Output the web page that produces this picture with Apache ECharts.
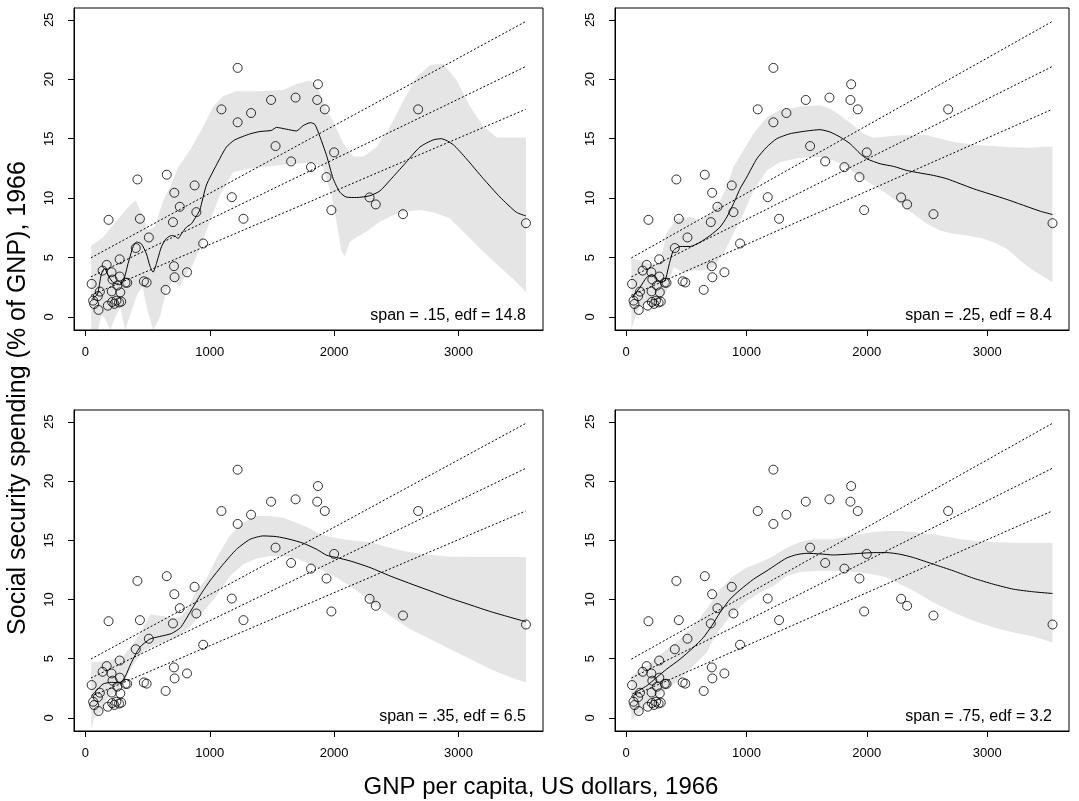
<!DOCTYPE html>
<html>
<head>
<meta charset="utf-8">
<title>Social security spending vs GNP, loess spans</title>
<script src="https://cdn.jsdelivr.net/npm/echarts@6/dist/echarts.min.js"></script>
<style>
  html, body { margin: 0; padding: 0; background: #fff; }
  #chart { width: 1079px; height: 801px; }
</style>
</head>
<body>
<div id="chart"></div>
<script>
// GNP per capita (US$) and social security spending (% of GNP), 1966
var gnp = [50, 62, 70, 100, 105, 116, 138, 171, 180, 186, 210, 212, 218, 215, 232, 249, 256, 275, 276, 280, 270, 288, 322, 336,
  405, 418, 438, 470, 492, 510, 645, 654, 704, 712, 715, 717, 759, 817, 878, 892, 947, 1094, 1177, 1224, 1224, 1271,
  1332, 1493, 1529, 1654, 1690, 1814, 1864, 1870, 1925, 1939, 1978, 2000, 2285, 2335, 2554, 2676, 3543]
var spend = [2.78, 1.37, 1.09, 1.75, 0.59, 2.13, 3.9, 4.38, 0.95, 8.17, 3.76, 2.15, 3.15, 1.26, 1.1, 1.37, 2.64, 4.85, 3.4, 2.07, 1.22, 1.29, 2.88, 2.88,
  5.8, 11.57, 8.26, 3.0, 2.9, 6.69, 2.28, 11.97, 7.98, 4.27, 10.45, 3.34, 9.27, 3.76, 11.07, 8.82, 6.18, 17.47, 10.08, 20.96, 16.38, 8.26,
  17.16, 18.26, 14.38, 13.09, 18.46, 12.61, 18.26, 19.58, 17.47, 11.77, 8.99, 13.85, 10.06, 9.47, 8.65, 17.47, 7.89]

// linear fit and its two dotted companions (same in every panel)
var linX = [44, 3540]
var linMid = [3.37, 21.07]
var linUp = [4.97, 24.86]
var linLow = [1.82, 17.47]

var xTicks = [0, 1000, 2000, 3000]
var yTicks = [0, 5, 10, 15, 20, 25]
var spanLabels = ['span = .15, edf = 14.8', 'span = .25, edf = 8.4', 'span = .35, edf = 6.5', 'span = .75, edf = 3.2']

// loess curves [x, y]
var fit15 = [[50,1.5],[96,1.9],[128,3.6],[155,4.1],[182,3.5],[222,2.9],[276,2.7],[308,3.1],[343,4.5],[383,5.9],[410,6.3],[450,6.15],
  [491,5.3],[518,4.3],[544,3.76],[571,4.5],[611,5.9],[651,6.6],[692,6.85],[719,6.8],[745,6.6],[772,7.0],[812,7.55],[853,7.85],[893,8.5],
  [920,9.0],[973,11.1],[1054,12.8],[1134,14.3],[1201,14.9],[1322,15.4],[1402,15.6],[1496,15.7],[1536,15.95],[1617,15.8],[1697,15.65],
  [1751,16.1],[1810,16.35],[1845,16.2],[1885,15.2],[1939,13.6],[1992,11.65],[2046,10.5],[2100,10.08],[2180,10.05],[2287,10.2],[2368,10.6],
  [2475,11.8],[2582,13.05],[2690,14.3],[2797,14.9],[2864,15.0],[2958,14.5],[3065,13.3],[3199,11.65],[3333,10.1],[3467,8.8],[3543,8.5]]
var fit25 = [[50,1.6],[66,1.8],[116,2.5],[172,3.34],[213,3.57],[255,3.2],[290,2.9],[324,3.06],[360,4.5],[393,5.59],[449,5.93],[532,5.93],
  [615,6.29],[698,6.85],[781,7.56],[837,8.4],[892,9.52],[947,10.79],[1003,11.77],[1086,13.31],[1169,14.3],[1252,15.0],[1363,15.42],
  [1501,15.65],[1612,15.76],[1695,15.56],[1778,15.14],[1861,14.58],[1945,13.74],[2000,13.31],[2111,12.89],[2222,12.67],[2332,12.33],
  [2443,12.11],[2554,11.91],[2665,11.63],[2886,10.79],[3163,9.89],[3440,8.9],[3543,8.62]]
var fit35 = [[50,1.9],[75,2.16],[142,2.87],[209,3.01],[276,2.95],[317,3.43],[370,4.69],[437,5.96],[518,6.66],[598,6.88],[692,7.13],
  [765,7.64],[840,8.9],[920,10.31],[1001,11.57],[1108,12.98],[1215,14.24],[1323,15.08],[1430,15.37],[1537,15.31],[1645,15.08],
  [1752,14.75],[1859,14.24],[1940,13.74],[2020,13.54],[2128,13.26],[2289,12.7],[2450,11.99],[2611,11.35],[2772,10.73],[2933,10.11],
  [3094,9.55],[3255,8.99],[3544,8.12]]
var fit75 = [[50,2.0],[172,2.72],[255,3.43],[338,4.13],[449,4.97],[560,5.96],[643,6.8],[712,7.78],[781,8.9],[864,10.03],[947,10.81],
  [1058,11.71],[1169,12.42],[1252,12.98],[1335,13.51],[1418,13.79],[1501,13.9],[1612,13.85],[1723,13.76],[1834,13.82],[1945,13.9],
  [2055,13.96],[2166,13.96],[2277,13.82],[2388,13.54],[2554,12.98],[2720,12.42],[2886,11.8],[3053,11.29],[3219,10.87],[3385,10.65],[3543,10.51]]

// confidence bands: upper and lower edges [x, y]
var up15 = [[46,6.0],[142,6.7],[250,8.1],[357,9.4],[405,9.8],[451,8.7],[504,7.3],[558,7.6],[625,9.8],[679,10.9],[746,12.6],[840,14.0],
  [947,16.0],[1028,17.7],[1108,18.6],[1215,19.0],[1376,19.0],[1591,19.1],[1698,19.6],[1806,19.9],[1859,19.5],[1940,17.4],[1994,16.4],
  [2074,14.6],[2155,13.5],[2235,13.5],[2342,14.3],[2450,16.0],[2557,18.2],[2664,20.2],[2772,21.2],[2879,21.3],[2986,19.9],[3094,17.7],
  [3201,16.0],[3308,15.1],[3544,15.1]]
var low15 = [[46,-1.1],[100,-1.1],[130,0.2],[160,-0.2],[200,-1.1],[240,0.0],[280,0.8],[320,-1.1],[370,0.5],[420,2.0],[460,2.5],[500,0.5],
  [545,-1.1],[600,0.0],[650,2.2],[700,3.0],[760,2.6],[810,3.6],[860,4.3],[920,5.75],[1000,8.0],[1080,10.25],[1188,12.2],[1322,12.5],
  [1590,12.8],[1831,13.0],[1912,12.6],[1979,10.25],[2019,8.0],[2059,5.5],[2086,5.1],[2126,6.3],[2180,6.7],[2260,7.2],[2368,8.0],
  [2528,8.8],[2690,9.0],[2797,8.8],[2931,8.3],[3065,6.9],[3199,5.5],[3333,4.2],[3440,3.2],[3544,2.1]]
var up25 = [[44,4.97],[116,4.75],[199,4.47],[283,4.47],[332,7.0],[421,8.26],[532,8.4],[615,8.12],[698,8.68],[781,9.8],[837,10.93],
  [892,12.61],[975,14.02],[1058,15.42],[1169,16.83],[1280,17.39],[1446,17.72],[1612,17.81],[1695,17.53],[1778,16.97],[1889,16.12],
  [1972,15.42],[2055,15.08],[2277,15.28],[2499,15.28],[2720,14.72],[2942,14.44],[3163,14.3],[3330,14.24],[3543,14.35]]
var low25 = [[44,-1.1],[70,-0.2],[116,0.81],[199,1.38],[283,1.24],[338,2.22],[393,4.19],[476,3.76],[560,3.9],[643,3.9],[726,4.19],
  [809,5.31],[892,7.0],[975,8.68],[1058,10.65],[1169,12.33],[1280,13.03],[1446,13.4],[1612,13.46],[1723,13.17],[1834,12.61],[1945,11.77],
  [2055,11.07],[2166,10.37],[2277,9.52],[2388,8.68],[2499,7.84],[2609,7.28],[2720,7.0],[2831,6.85],[2942,6.66],[3053,6.29],[3163,5.73],
  [3274,4.75],[3385,3.9],[3543,2.92]]
var up35 = [[46,4.69],[174,4.83],[308,5.25],[389,6.37],[442,7.21],[523,8.76],[603,8.62],[684,8.48],[764,8.48],[818,9.18],[871,10.3],
  [925,11.14],[979,11.85],[1059,13.6],[1162,15.4],[1269,16.5],[1376,17.05],[1484,17.05],[1591,16.91],[1698,16.49],[1806,16.0],
  [1859,15.65],[1940,15.37],[2047,15.14],[2181,14.94],[2289,14.86],[2396,14.52],[2557,14.1],[2718,13.82],[2933,13.62],[3201,13.6],[3544,13.6]]
var low35 = [[46,-1.0],[70,0.0],[121,0.47],[174,1.6],[255,2.3],[308,3.0],[362,4.12],[416,4.97],[469,5.67],[550,6.09],[630,6.37],
  [711,6.65],[791,7.21],[871,8.06],[952,9.04],[1032,10.02],[1113,11.2],[1162,11.99],[1269,12.98],[1376,13.46],[1484,13.68],[1591,13.68],
  [1698,13.46],[1806,12.98],[1913,12.42],[2020,11.85],[2128,11.15],[2235,10.31],[2342,9.47],[2450,8.62],[2611,7.5],[2772,6.66],
  [2933,5.81],[3094,4.97],[3255,4.13],[3416,3.43],[3544,3.0]]
var up75 = [[44,3.57],[172,4.41],[338,5.81],[449,6.66],[560,7.78],[670,9.18],[781,10.87],[892,11.99],[1003,12.7],[1114,13.12],
  [1224,13.68],[1335,14.38],[1446,14.86],[1557,15.08],[1723,15.08],[1834,15.31],[1945,15.51],[2055,15.7],[2166,15.79],[2277,15.79],
  [2388,15.7],[2554,15.51],[2776,15.08],[2997,14.86],[3219,14.8],[3543,14.8]]
var low75 = [[44,-0.22],[172,1.04],[338,2.44],[449,3.29],[560,4.41],[670,5.53],[726,6.66],[781,7.5],[892,8.9],[1003,9.89],[1114,10.59],
  [1224,11.15],[1335,11.99],[1446,12.33],[1612,12.42],[1778,12.42],[1945,12.28],[2055,12.13],[2166,11.85],[2277,11.29],[2388,10.73],
  [2554,9.75],[2720,8.9],[2886,8.2],[3053,7.64],[3219,7.22],[3385,6.88],[3543,6.38]]

var fits = [fit15, fit25, fit35, fit75]
var ups = [up15, up25, up35, up75]
var lows = [low15, low25, low35, low75]

var FONT = '"Liberation Sans", Arial, Helvetica, sans-serif'

var grids = [
  {left: 74, top: 8, width: 469, height: 322},
  {left: 615, top: 8, width: 454, height: 322},
  {left: 74, top: 410, width: 469, height: 321},
  {left: 615, top: 410, width: 454, height: 321}
]

function pairs(xs, ys) {
  var out = []
  for (var i = 0; i < xs.length; i++) out.push([xs[i], ys[i]])
  return out
}

function bandSeries(gi, upper, lower) {
  return {
    type: 'custom',
    xAxisIndex: gi,
    yAxisIndex: gi,
    clip: true,
    silent: true,
    z: 1,
    data: [0],
    renderItem: function (params, api) {
      var pts = []
      for (var i = 0; i < upper.length; i++) pts.push(api.coord(upper[i]))
      for (var j = lower.length - 1; j >= 0; j--) pts.push(api.coord(lower[j]))
      return {type: 'polygon', shape: {points: pts}, style: {fill: '#e5e5e5', stroke: null}}
    }
  }
}

function dotted(gi, ys) {
  return {
    type: 'line', xAxisIndex: gi, yAxisIndex: gi, data: pairs(linX, ys),
    showSymbol: false, silent: true, z: 3,
    lineStyle: {color: '#000', width: 1, type: [2, 2]}
  }
}

var plain = function (v) { return String(v) }

var xAxes = [], yAxes = [], series = [], texts = []
for (var g = 0; g < 4; g++) {
  xAxes.push({
    gridIndex: g, type: 'value', position: 'bottom', min: -92, max: 3680,
    splitLine: {show: false},
    axisLine: {show: true, onZero: false, lineStyle: {color: '#000', width: 1}},
    axisTick: {show: true, inside: false, length: 6, customValues: xTicks, lineStyle: {color: '#000'}},
    axisLabel: {customValues: xTicks, formatter: plain, color: '#000', fontSize: 13, fontFamily: FONT, margin: 16}
  })
  yAxes.push({
    gridIndex: g, type: 'value', position: 'left', min: -1.1, max: 26,
    splitLine: {show: false},
    axisLine: {show: true, onZero: false, lineStyle: {color: '#000', width: 1}},
    axisTick: {show: true, inside: false, length: 6, customValues: yTicks, lineStyle: {color: '#000'}},
    axisLabel: {customValues: yTicks, formatter: plain, rotate: 90, color: '#000', fontSize: 13, fontFamily: FONT, margin: 18}
  })
  series.push(bandSeries(g, ups[g], lows[g]))
  series.push(dotted(g, linUp))
  series.push(dotted(g, linMid))
  series.push(dotted(g, linLow))
  series.push({
    type: 'line', xAxisIndex: g, yAxisIndex: g, data: fits[g],
    showSymbol: false, silent: true, z: 4, smooth: 0.2,
    lineStyle: {color: '#000', width: 1}
  })
  series.push({
    type: 'scatter', xAxisIndex: g, yAxisIndex: g, data: pairs(gnp, spend),
    symbol: 'circle', symbolSize: 9, silent: true, z: 5,
    itemStyle: {color: 'rgba(0,0,0,0)', borderColor: '#000', borderWidth: 1}
  })
  texts.push({
    type: 'text',
    x: grids[g].left + grids[g].width - 17,
    y: grids[g].top + grids[g].height - 14,
    style: {text: spanLabels[g], fill: '#000', font: '16px ' + FONT, align: 'right', verticalAlign: 'middle'}
  })
}

texts.push({
  type: 'text', x: 541, y: 787,
  style: {text: 'GNP per capita, US dollars, 1966', fill: '#000', font: '24px ' + FONT, align: 'center', verticalAlign: 'middle'}
})
texts.push({
  type: 'text', x: 18, y: 398, rotation: Math.PI / 2,
  style: {text: 'Social security spending (% of GNP), 1966', fill: '#000', font: '25px ' + FONT, align: 'center', verticalAlign: 'middle'}
})

var chart = echarts.init(document.getElementById('chart'))
chart.setOption({
  animation: false,
  backgroundColor: '#fff',
  grid: grids.map(function (r) {
    return {left: r.left, top: r.top, width: r.width, height: r.height, show: true, z: 6,
      borderColor: '#000', borderWidth: 1, backgroundColor: 'rgba(0,0,0,0)'}
  }),
  xAxis: xAxes,
  yAxis: yAxes,
  series: series,
  graphic: texts
})
</script>
</body>
</html>
